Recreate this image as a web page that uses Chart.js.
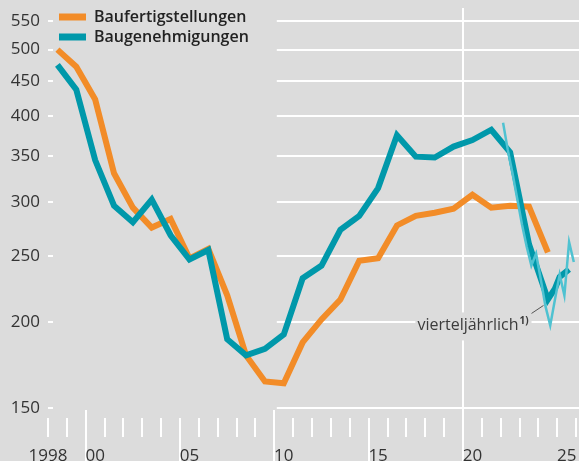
<!DOCTYPE html>
<html>
<head>
<meta charset="utf-8">
<script src="https://cdn.jsdelivr.net/npm/chart.js@4.4.1/dist/chart.umd.min.js"></script>
<style>
  html, body { margin: 0; padding: 0; background: #dcdcdc; }
</style>
</head>
<body>
<canvas id="chart" width="579" height="461"></canvas>
<script>
// annual values (thousand dwellings)
const years = [1998, 1999, 2000, 2001, 2002, 2003, 2004, 2005, 2006, 2007, 2008, 2009, 2010,
  2011, 2012, 2013, 2014, 2015, 2016, 2017, 2018, 2019, 2020, 2021, 2022, 2023, 2024];
const completions = [500, 472, 423, 330, 294, 275, 283, 248, 256, 219, 179, 164, 163,
  187, 202, 216, 246, 248, 277, 286, 289, 293, 307, 294, 296, 295, 253];
const permits = [475, 437, 345, 296, 280, 302, 268, 247, 255, 189, 179, 183, 192,
  232, 242, 273, 286, 314, 375, 349, 348, 361, 369, 382, 354, 260, 216];

// latest permits, continued by quarter
const tailQuarters = ["2024 Q4", "2025 Q1", "2025 Q2", "2025 Q3"];
const permitsTail = [224, 233, 236, 239];

// quarterly permits (annualised)
const quarters = ["2022 Q1", "2022 Q2", "2022 Q3", "2022 Q4", "2023 Q1", "2023 Q2", "2023 Q3", "2023 Q4",
  "2024 Q1", "2024 Q2", "2024 Q3", "2024 Q4", "2025 Q1", "2025 Q2", "2025 Q3", "2025 Q4"];
const permitsQuarterly = [391, 357, 330, 303, 278, 258, 242, 252, 231, 211, 198, 216, 235, 219, 262, 245];

const yTicks = [150, 200, 250, 300, 350, 400, 450, 500, 550];
const xLabelYears = [1998, 2000, 2005, 2010, 2015, 2020, 2025];

const seriesNames = ["Baufertigstellungen", "Baugenehmigungen"];
const noteText = "vierteljährlich";
const noteMark = "1)";

const ORANGE = "#f28c28";
const TEAL = "#0098aa";
const LIGHT_TEAL = "#4fc2d1";
const BG = "#dcdcdc";
const TXT = "#333333";

function qToYear(q) {
  const parts = q.split(" Q");
  return +parts[0] + (+parts[1] - 0.5) / 4;
}

const annualCompl = years.map((y, i) => ({ x: y + 0.5, y: completions[i] }));
const annualPermits = years.map((y, i) => ({ x: y + 0.5, y: permits[i] }))
  .concat(tailQuarters.map((q, i) => ({ x: qToYear(q), y: permitsTail[i] })));
const quarterlyPermits = quarters.map((q, i) => ({ x: qToYear(q), y: permitsQuarterly[i] }));

Chart.defaults.font.family = "'Open Sans', sans-serif";

function noPadding(scale) {
  scale.paddingLeft = 0;
  scale.paddingRight = 0;
  scale.paddingTop = 0;
  scale.paddingBottom = 0;
}

const backdrop = {
  id: "backdrop",
  afterUpdate(chart) {
    const lg = chart.legend;
    lg.left = chart.chartArea.left + 7;
    lg.right = lg.left + lg.width;
    lg.top = 5;
    lg.bottom = lg.top + lg.height;
  },
  beforeDraw(chart) {
    const ctx = chart.ctx;
    const area = chart.chartArea;
    const xs = chart.scales.x, ys = chart.scales.y;
    ctx.save();
    ctx.fillStyle = BG;
    ctx.fillRect(0, 0, chart.width, chart.height);

    ctx.strokeStyle = "#ffffff";
    ctx.lineWidth = 2;
    // horizontal grid
    yTicks.forEach(v => {
      const y = Math.round(ys.getPixelForValue(v));
      ctx.beginPath();
      ctx.moveTo(area.left, y);
      ctx.lineTo(chart.width, y);
      ctx.stroke();
    });
    // year ticks and decade lines
    for (let yr = 1998; yr <= 2026; yr++) {
      const x = Math.round(xs.getPixelForValue(yr));
      ctx.beginPath();
      if (yr % 10 === 0) {
        ctx.moveTo(x, area.top);
        ctx.lineTo(x, chart.height);
      } else if (yr % 10 === 5 && yr < 2025) {
        ctx.moveTo(x, area.bottom + 10);
        ctx.lineTo(x, chart.height);
      } else {
        ctx.moveTo(x, area.bottom + 10);
        ctx.lineTo(x, area.bottom + 29);
      }
      ctx.stroke();
    }

    // legend backing
    const lg = chart.legend;
    ctx.fillStyle = BG;
    ctx.fillRect(lg.left - 2, 0, lg.width + 20, lg.top + lg.height + 5);

    // note backing
    const n = notePos(chart);
    ctx.font = "16px 'Open Sans', sans-serif";
    const w = ctx.measureText(noteText).width;
    ctx.fillRect(n.tx - w - 2, n.ty - 18, w + 15, 28);
    ctx.restore();
  },
  afterDatasetsDraw(chart) {
    const ctx = chart.ctx;
    const n = notePos(chart);
    ctx.save();
    ctx.fillStyle = "#3c3c3c";
    ctx.textAlign = "right";
    ctx.textBaseline = "alphabetic";
    ctx.font = "16px 'Open Sans', sans-serif";
    ctx.fillText(noteText, n.tx, n.ty);
    ctx.textAlign = "left";
    ctx.font = "bold 10px 'Open Sans', sans-serif";
    ctx.fillText(noteMark, n.tx + 1, n.ty - 6);
    ctx.strokeStyle = "#555555";
    ctx.lineWidth = 1;
    ctx.beginPath();
    ctx.moveTo(n.ax - 12, n.ay + 8);
    ctx.lineTo(n.ax, n.ay);
    ctx.stroke();
    ctx.restore();
  }
};

function notePos(chart) {
  const xs = chart.scales.x, ys = chart.scales.y;
  const i = quarters.indexOf("2024 Q2");
  const ax = xs.getPixelForValue(qToYear(quarters[i])) - 2;
  const ay = ys.getPixelForValue(permitsQuarterly[i]) - 1;
  return { ax, ay, tx: ax - 25, ty: ay + 25 };
}

new Chart(document.getElementById("chart"), {
  type: "line",
  data: {
    datasets: [
      { label: seriesNames[0], data: annualCompl, borderColor: ORANGE, backgroundColor: ORANGE,
        borderWidth: 6, pointRadius: 0, tension: 0, order: 3 },
      { label: seriesNames[1], data: annualPermits, borderColor: TEAL, backgroundColor: TEAL,
        borderWidth: 6, pointRadius: 0, tension: 0, order: 2 },
      { label: noteText, data: quarterlyPermits, borderColor: LIGHT_TEAL, backgroundColor: LIGHT_TEAL,
        borderWidth: 2.5, pointRadius: 0, tension: 0, order: 1 }
    ]
  },
  options: {
    responsive: false,
    devicePixelRatio: 1,
    animation: false,
    events: [],
    layout: { padding: { top: 8, left: 0, right: 0, bottom: 0 } },
    scales: {
      x: {
        type: "linear",
        min: 1998,
        max: 2026.15,
        grid: { display: false, drawTicks: false },
        border: { display: false },
        afterBuildTicks(scale) {
          scale.ticks = xLabelYears.map(y => ({ value: y === 1998 ? y : y + 0.5 }));
        },
        afterFit(scale) { scale.height = 53; noPadding(scale); },
        ticks: {
          autoSkip: false,
          maxRotation: 0,
          padding: 38,
          color: TXT,
          font: { size: 17 },
          callback(v) {
            const y = Math.floor(v);
            return y === 1998 ? "1998" : String(y % 100).padStart(2, "0");
          }
        }
      },
      y: {
        type: "logarithmic",
        min: 150,
        max: 575,
        grid: { display: false, drawTicks: false },
        border: { display: false },
        afterBuildTicks(scale) {
          scale.ticks = yTicks.map(v => ({ value: v }));
        },
        afterFit(scale) { scale.width = 48; noPadding(scale); },
        ticks: {
          autoSkip: false,
          padding: 8,
          color: TXT,
          font: { size: 17 },
          callback: v => String(v)
        }
      }
    },
    plugins: {
      tooltip: { enabled: false },
      legend: {
        position: "chartArea",
        align: "start",
        labels: {
          boxWidth: 27,
          boxHeight: 7,
          padding: 4,
          color: "#222222",
          font: { size: 16, weight: 600 },
          filter: item => item.datasetIndex < 2,
          sort: (a, b) => a.datasetIndex - b.datasetIndex,
          generateLabels(chart) {
            const items = Chart.defaults.plugins.legend.labels.generateLabels(chart);
            items.forEach(it => { it.lineWidth = 0; it.fillStyle = it.strokeStyle; });
            return items;
          }
        }
      }
    }
  },
  plugins: [backdrop]
});
</script>
</body>
</html>
